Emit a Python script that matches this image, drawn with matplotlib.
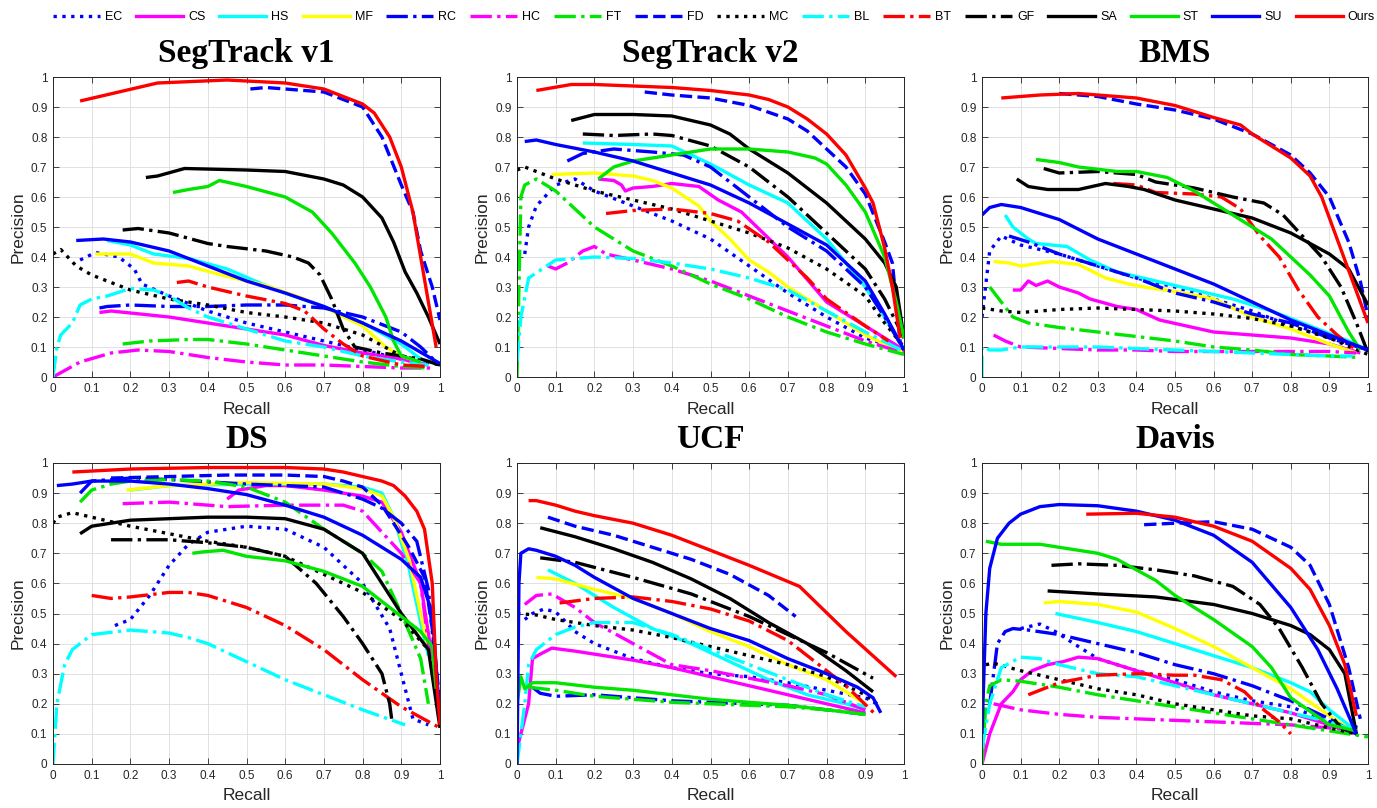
import matplotlib
matplotlib.use("Agg")
import matplotlib.pyplot as plt
from matplotlib.lines import Line2D

methods = ["EC", "CS", "HS", "MF", "RC", "HC", "FT", "FD", "MC", "BL", "BT", "GF", "SA", "ST", "SU", "Ours"]
colors = ["#0000ff", "#ff00ff", "#00ffff", "#ffff00", "#0000ff", "#ff00ff", "#00e600", "#0000ff",
          "#000000", "#00ffff", "#ff0000", "#000000", "#000000", "#00e600", "#0000ff", "#ff0000"]
styles = [":", "-", "-", "-", "-.", "-.", "-.", "--", ":", "-.", "-.", "-.", "-", "-", "-", "-"]
titles = ["SegTrack v1", "SegTrack v2", "BMS", "DS", "UCF", "Davis"]
ticks = [0, 0.1, 0.2, 0.3, 0.4, 0.5, 0.6, 0.7, 0.8, 0.9, 1]
tick_labels = ["0", "0.1", "0.2", "0.3", "0.4", "0.5", "0.6", "0.7", "0.8", "0.9", "1"]

# each entry: method -> ([recall...], [precision...])
segtrack_v1 = {
    "EC": ([0.07, 0.11, 0.17, 0.21, 0.23, 0.3, 0.4, 0.5, 0.6, 0.7, 0.8, 0.9, 0.97],
           [0.39, 0.415, 0.4, 0.36, 0.31, 0.27, 0.22, 0.18, 0.15, 0.12, 0.09, 0.06, 0.04]),
    "CS": ([0.12, 0.15, 0.3, 0.4, 0.5, 0.6, 0.7, 0.8, 0.9, 0.97],
           [0.215, 0.22, 0.2, 0.18, 0.16, 0.14, 0.105, 0.08, 0.06, 0.04]),
    "HS": ([0.14, 0.2, 0.26, 0.35, 0.45, 0.55, 0.6, 0.7, 0.8, 0.9, 0.95, 1.0],
           [0.455, 0.44, 0.41, 0.395, 0.36, 0.305, 0.28, 0.235, 0.18, 0.11, 0.06, 0.04]),
    "MF": ([0.11, 0.2, 0.26, 0.35, 0.45, 0.55, 0.65, 0.72, 0.8, 0.86, 0.9, 0.95],
           [0.41, 0.41, 0.38, 0.37, 0.335, 0.305, 0.26, 0.22, 0.17, 0.1, 0.07, 0.05]),
    "RC": ([0.12, 0.14, 0.2, 0.3, 0.4, 0.5, 0.6, 0.7, 0.8, 0.9, 0.95, 0.99],
           [0.23, 0.235, 0.24, 0.235, 0.235, 0.24, 0.24, 0.23, 0.2, 0.15, 0.1, 0.05]),
    "HC": ([0.0, 0.07, 0.15, 0.22, 0.3, 0.4, 0.5, 0.6, 0.7, 0.8, 0.9, 0.98],
           [0.0, 0.05, 0.08, 0.09, 0.085, 0.065, 0.05, 0.04, 0.04, 0.035, 0.03, 0.03]),
    "FT": ([0.18, 0.25, 0.35, 0.4, 0.5, 0.6, 0.7, 0.8, 0.9, 0.97],
           [0.11, 0.12, 0.125, 0.125, 0.11, 0.09, 0.07, 0.05, 0.035, 0.03]),
    "FD": ([0.51, 0.55, 0.7, 0.8, 0.85, 0.9, 0.93, 0.95, 0.98, 1.0],
           [0.96, 0.965, 0.95, 0.9, 0.8, 0.64, 0.55, 0.42, 0.3, 0.19]),
    "MC": ([0.0, 0.02, 0.06, 0.1, 0.2, 0.3, 0.4, 0.5, 0.6, 0.7, 0.8, 0.9, 1.0],
           [0.41, 0.425, 0.37, 0.34, 0.29, 0.26, 0.24, 0.215, 0.2, 0.18, 0.14, 0.07, 0.04]),
    "BL": ([0.0, 0.01, 0.02, 0.05, 0.07, 0.1, 0.14, 0.2, 0.26, 0.3, 0.35, 0.4, 0.5, 0.6, 0.7, 0.8, 0.9, 0.97],
           [0.0, 0.1, 0.14, 0.18, 0.24, 0.26, 0.27, 0.295, 0.29, 0.27, 0.23, 0.2, 0.16, 0.12, 0.1, 0.07, 0.05, 0.04]),
    "BT": ([0.32, 0.35, 0.4, 0.5, 0.6, 0.65, 0.7, 0.75, 0.8, 0.9, 0.97],
           [0.315, 0.32, 0.3, 0.27, 0.245, 0.22, 0.16, 0.11, 0.07, 0.04, 0.035]),
    "GF": ([0.18, 0.22, 0.3, 0.4, 0.45, 0.55, 0.62, 0.66, 0.69, 0.72, 0.75, 0.78, 0.85, 0.95, 1.0],
           [0.49, 0.495, 0.48, 0.445, 0.435, 0.42, 0.4, 0.38, 0.34, 0.26, 0.16, 0.1, 0.08, 0.06, 0.04]),
    "SA": ([0.24, 0.27, 0.34, 0.5, 0.6, 0.7, 0.75, 0.8, 0.85, 0.88, 0.91, 0.94, 0.97, 1.0],
           [0.665, 0.67, 0.695, 0.69, 0.685, 0.66, 0.64, 0.6, 0.53, 0.45, 0.35, 0.28, 0.2, 0.11]),
    "ST": ([0.31, 0.35, 0.4, 0.43, 0.5, 0.6, 0.67, 0.72, 0.78, 0.82, 0.86, 0.88, 0.9, 0.95],
           [0.615, 0.625, 0.635, 0.655, 0.635, 0.6, 0.55, 0.48, 0.38, 0.3, 0.2, 0.12, 0.07, 0.05]),
    "SU": ([0.06, 0.13, 0.2, 0.3, 0.4, 0.5, 0.6, 0.7, 0.8, 0.9, 1.0],
           [0.455, 0.46, 0.45, 0.42, 0.37, 0.32, 0.28, 0.235, 0.18, 0.12, 0.045]),
    "Ours": ([0.07, 0.27, 0.45, 0.6, 0.7, 0.8, 0.83, 0.87, 0.9, 0.93, 0.95, 0.97, 0.99],
             [0.92, 0.98, 0.99, 0.98, 0.96, 0.91, 0.88, 0.8, 0.7, 0.55, 0.4, 0.25, 0.1]),
}

segtrack_v2 = {
    "EC": ([0.02, 0.03, 0.05, 0.1, 0.15, 0.2, 0.3, 0.4, 0.5, 0.6, 0.7, 0.8, 0.9, 1.0],
           [0.41, 0.5, 0.57, 0.64, 0.66, 0.62, 0.57, 0.52, 0.46, 0.37, 0.28, 0.2, 0.13, 0.09]),
    "CS": ([0.21, 0.25, 0.27, 0.28, 0.3, 0.35, 0.4, 0.47, 0.52, 0.58, 0.62, 0.7, 0.8, 0.9, 1.0],
           [0.66, 0.655, 0.64, 0.62, 0.63, 0.635, 0.645, 0.635, 0.59, 0.55, 0.5, 0.4, 0.25, 0.17, 0.09]),
    "HS": ([0.17, 0.3, 0.4, 0.45, 0.5, 0.6, 0.7, 0.8, 0.9, 0.95, 1.0],
           [0.78, 0.775, 0.77, 0.74, 0.71, 0.64, 0.58, 0.46, 0.3, 0.2, 0.09]),
    "MF": ([0.09, 0.2, 0.3, 0.35, 0.4, 0.47, 0.5, 0.55, 0.6, 0.65, 0.7, 0.8, 0.9, 1.0],
           [0.675, 0.68, 0.67, 0.655, 0.63, 0.57, 0.52, 0.46, 0.39, 0.35, 0.3, 0.22, 0.14, 0.08]),
    "RC": ([0.13, 0.17, 0.25, 0.35, 0.43, 0.5, 0.6, 0.7, 0.8, 0.9, 0.95, 1.0],
           [0.72, 0.745, 0.76, 0.75, 0.74, 0.7, 0.6, 0.5, 0.42, 0.3, 0.2, 0.09]),
    "HC": ([0.08, 0.1, 0.13, 0.17, 0.2, 0.23, 0.3, 0.4, 0.5, 0.6, 0.7, 0.8, 0.9, 1.0],
           [0.37, 0.36, 0.38, 0.42, 0.435, 0.41, 0.39, 0.36, 0.32, 0.27, 0.22, 0.17, 0.12, 0.08]),
    "FT": ([0.0, 0.01, 0.02, 0.05, 0.1, 0.2, 0.3, 0.4, 0.5, 0.6, 0.7, 0.8, 0.9, 1.0],
           [0.0, 0.6, 0.64, 0.66, 0.62, 0.5, 0.42, 0.37, 0.31, 0.26, 0.2, 0.15, 0.11, 0.075]),
    "FD": ([0.33, 0.4, 0.5, 0.6, 0.7, 0.75, 0.8, 0.85, 0.9, 0.95, 0.97, 0.99],
           [0.95, 0.94, 0.93, 0.905, 0.86, 0.82, 0.76, 0.7, 0.61, 0.45, 0.38, 0.12]),
    "MC": ([0.0, 0.02, 0.1, 0.2, 0.3, 0.4, 0.5, 0.6, 0.7, 0.8, 0.9, 0.95, 1.0],
           [0.69, 0.7, 0.66, 0.62, 0.59, 0.56, 0.52, 0.48, 0.43, 0.36, 0.27, 0.18, 0.1]),
    "BL": ([0.0, 0.01, 0.03, 0.1, 0.2, 0.3, 0.4, 0.5, 0.6, 0.7, 0.8, 0.9, 1.0],
           [0.05, 0.2, 0.33, 0.39, 0.4, 0.395, 0.38, 0.36, 0.33, 0.29, 0.22, 0.15, 0.085]),
    "BT": ([0.23, 0.3, 0.4, 0.5, 0.57, 0.65, 0.75, 0.8, 0.9, 0.96],
           [0.545, 0.555, 0.56, 0.545, 0.52, 0.45, 0.33, 0.26, 0.17, 0.12]),
    "GF": ([0.17, 0.25, 0.35, 0.4, 0.5, 0.6, 0.7, 0.8, 0.9, 0.95, 1.0],
           [0.81, 0.805, 0.81, 0.805, 0.77, 0.7, 0.6, 0.48, 0.36, 0.26, 0.13]),
    "SA": ([0.14, 0.2, 0.3, 0.4, 0.5, 0.55, 0.6, 0.7, 0.8, 0.9, 0.95, 0.98, 1.0],
           [0.855, 0.875, 0.875, 0.87, 0.84, 0.81, 0.76, 0.68, 0.58, 0.46, 0.38, 0.3, 0.13]),
    "ST": ([0.21, 0.25, 0.3, 0.4, 0.5, 0.6, 0.7, 0.77, 0.8, 0.85, 0.9, 0.95, 0.98, 1.0],
           [0.66, 0.7, 0.72, 0.74, 0.76, 0.76, 0.75, 0.73, 0.71, 0.64, 0.55, 0.4, 0.25, 0.13]),
    "SU": ([0.02, 0.05, 0.1, 0.2, 0.3, 0.4, 0.5, 0.6, 0.7, 0.8, 0.9, 0.95, 1.0],
           [0.785, 0.79, 0.775, 0.75, 0.72, 0.68, 0.64, 0.58, 0.51, 0.44, 0.32, 0.21, 0.09]),
    "Ours": ([0.05, 0.14, 0.2, 0.3, 0.4, 0.5, 0.6, 0.65, 0.7, 0.75, 0.8, 0.85, 0.9, 0.92, 0.95, 0.97, 0.99],
             [0.955, 0.975, 0.975, 0.97, 0.965, 0.955, 0.94, 0.925, 0.9, 0.86, 0.81, 0.74, 0.63, 0.58, 0.43, 0.3, 0.13]),
}

bms = {
    "EC": ([0.0, 0.02, 0.05, 0.1, 0.2, 0.3, 0.4, 0.5, 0.6, 0.7, 0.8, 0.9, 1.0],
           [0.2, 0.42, 0.47, 0.44, 0.41, 0.37, 0.33, 0.3, 0.26, 0.22, 0.17, 0.13, 0.09]),
    "CS": ([0.08, 0.1, 0.12, 0.14, 0.17, 0.2, 0.25, 0.28, 0.35, 0.4, 0.46, 0.6, 0.8, 0.9, 0.98],
           [0.29, 0.29, 0.32, 0.305, 0.32, 0.3, 0.28, 0.26, 0.235, 0.225, 0.19, 0.15, 0.13, 0.11, 0.08]),
    "HS": ([0.06, 0.08, 0.12, 0.14, 0.18, 0.22, 0.28, 0.35, 0.45, 0.55, 0.65, 0.75, 0.85, 0.95, 1.0],
           [0.54, 0.5, 0.46, 0.445, 0.44, 0.435, 0.39, 0.35, 0.32, 0.29, 0.26, 0.22, 0.17, 0.12, 0.09]),
    "MF": ([0.03, 0.07, 0.1, 0.18, 0.25, 0.32, 0.38, 0.42, 0.5, 0.6, 0.7, 0.8, 0.9, 0.97],
           [0.385, 0.38, 0.37, 0.385, 0.375, 0.33, 0.31, 0.3, 0.285, 0.26, 0.2, 0.16, 0.11, 0.08]),
    "RC": ([0.07, 0.12, 0.2, 0.3, 0.4, 0.5, 0.6, 0.7, 0.8, 0.9, 1.0],
           [0.47, 0.45, 0.41, 0.37, 0.33, 0.28, 0.25, 0.21, 0.18, 0.13, 0.09]),
    "HC": ([0.03, 0.06, 0.1, 0.2, 0.3, 0.4, 0.5, 0.6, 0.7, 0.8, 0.9, 0.97],
           [0.14, 0.12, 0.1, 0.095, 0.09, 0.09, 0.085, 0.085, 0.085, 0.085, 0.085, 0.08]),
    "FT": ([0.02, 0.05, 0.08, 0.12, 0.2, 0.3, 0.4, 0.5, 0.6, 0.7, 0.8, 0.9, 0.98],
           [0.3, 0.25, 0.2, 0.18, 0.165, 0.15, 0.135, 0.12, 0.1, 0.09, 0.075, 0.07, 0.065]),
    "FD": ([0.2, 0.3, 0.4, 0.5, 0.6, 0.7, 0.8, 0.85, 0.9, 0.95, 0.98, 1.0],
           [0.945, 0.935, 0.91, 0.89, 0.86, 0.81, 0.74, 0.68, 0.6, 0.45, 0.32, 0.2]),
    "MC": ([0.0, 0.05, 0.1, 0.2, 0.3, 0.4, 0.5, 0.6, 0.7, 0.8, 0.9, 1.0],
           [0.23, 0.22, 0.215, 0.225, 0.23, 0.225, 0.22, 0.21, 0.195, 0.17, 0.13, 0.075]),
    "BL": ([0.0, 0.0, 0.02, 0.05, 0.1, 0.2, 0.3, 0.4, 0.5, 0.6, 0.7, 0.8, 0.9, 0.96],
           [0.0, 0.1, 0.09, 0.09, 0.1, 0.1, 0.1, 0.095, 0.09, 0.085, 0.08, 0.075, 0.07, 0.07]),
    "BT": ([0.34, 0.4, 0.45, 0.55, 0.62, 0.67, 0.72, 0.77, 0.82, 0.87, 0.92, 0.97],
           [0.645, 0.64, 0.615, 0.61, 0.6, 0.56, 0.47, 0.4, 0.29, 0.2, 0.14, 0.09]),
    "GF": ([0.16, 0.2, 0.3, 0.4, 0.45, 0.55, 0.65, 0.73, 0.78, 0.83, 0.88, 0.93, 0.97, 1.0],
           [0.695, 0.68, 0.685, 0.675, 0.65, 0.63, 0.6, 0.58, 0.54, 0.47, 0.4, 0.3, 0.18, 0.08]),
    "SA": ([0.09, 0.12, 0.17, 0.25, 0.32, 0.38, 0.42, 0.5, 0.6, 0.7, 0.8, 0.9, 0.95, 1.0],
           [0.66, 0.635, 0.625, 0.625, 0.645, 0.635, 0.625, 0.59, 0.56, 0.53, 0.48, 0.41, 0.36, 0.24]),
    "ST": ([0.14, 0.2, 0.25, 0.35, 0.4, 0.48, 0.55, 0.65, 0.75, 0.85, 0.9, 0.95, 0.98],
           [0.725, 0.715, 0.7, 0.685, 0.685, 0.665, 0.62, 0.54, 0.46, 0.34, 0.27, 0.15, 0.09]),
    "SU": ([0.0, 0.02, 0.05, 0.1, 0.2, 0.3, 0.4, 0.5, 0.6, 0.7, 0.8, 0.9, 1.0],
           [0.54, 0.565, 0.575, 0.565, 0.525, 0.46, 0.41, 0.36, 0.31, 0.25, 0.19, 0.14, 0.09]),
    "Ours": ([0.05, 0.15, 0.25, 0.4, 0.5, 0.6, 0.67, 0.7, 0.8, 0.85, 0.88, 0.92, 0.96, 1.0],
             [0.93, 0.94, 0.945, 0.93, 0.905, 0.865, 0.84, 0.81, 0.73, 0.67, 0.6, 0.46, 0.32, 0.18]),
}

ds = {
    "EC": ([0.16, 0.2, 0.25, 0.3, 0.35, 0.4, 0.5, 0.6, 0.7, 0.8, 0.87, 0.9, 0.93, 0.97],
           [0.46, 0.48, 0.56, 0.66, 0.73, 0.77, 0.79, 0.78, 0.72, 0.6, 0.45, 0.3, 0.15, 0.13]),
    "CS": ([0.45, 0.48, 0.55, 0.6, 0.7, 0.8, 0.85, 0.9, 0.95, 0.98],
           [0.88, 0.91, 0.925, 0.925, 0.91, 0.89, 0.87, 0.77, 0.6, 0.35]),
    "HS": ([0.2, 0.3, 0.5, 0.7, 0.8, 0.85, 0.88, 0.92, 0.95, 0.97],
           [0.91, 0.925, 0.93, 0.93, 0.92, 0.9, 0.82, 0.65, 0.47, 0.36]),
    "MF": ([0.19, 0.3, 0.5, 0.7, 0.8, 0.85, 0.88, 0.92, 0.95, 0.97],
           [0.91, 0.925, 0.935, 0.93, 0.915, 0.89, 0.82, 0.68, 0.5, 0.38]),
    "RC": ([0.07, 0.1, 0.2, 0.3, 0.5, 0.7, 0.8, 0.85, 0.9, 0.94, 0.97, 0.99],
           [0.9, 0.94, 0.95, 0.945, 0.93, 0.92, 0.88, 0.85, 0.8, 0.74, 0.58, 0.3]),
    "HC": ([0.18, 0.3, 0.45, 0.6, 0.75, 0.8, 0.85, 0.9, 0.95, 0.98],
           [0.865, 0.87, 0.855, 0.86, 0.86, 0.84, 0.77, 0.7, 0.6, 0.3]),
    "FT": ([0.07, 0.1, 0.15, 0.2, 0.3, 0.4, 0.5, 0.6, 0.7, 0.8, 0.85, 0.9, 0.95, 0.97],
           [0.87, 0.91, 0.93, 0.94, 0.945, 0.94, 0.92, 0.87, 0.78, 0.7, 0.64, 0.5, 0.35, 0.2]),
    "FD": ([0.15, 0.3, 0.45, 0.6, 0.7, 0.75, 0.8, 0.85, 0.88, 0.92, 0.96, 0.98, 1.0],
           [0.95, 0.955, 0.96, 0.96, 0.955, 0.94, 0.92, 0.86, 0.8, 0.72, 0.62, 0.45, 0.2]),
    "MC": ([0.0, 0.01, 0.05, 0.1, 0.2, 0.3, 0.4, 0.5, 0.6, 0.7, 0.8, 0.9, 0.97],
           [0.8, 0.82, 0.835, 0.82, 0.79, 0.765, 0.74, 0.72, 0.69, 0.63, 0.57, 0.48, 0.38]),
    "BL": ([0.0, 0.01, 0.03, 0.05, 0.1, 0.2, 0.3, 0.35, 0.4, 0.5, 0.6, 0.7, 0.8, 0.91],
           [0.0, 0.2, 0.33, 0.38, 0.43, 0.445, 0.435, 0.42, 0.4, 0.34, 0.28, 0.23, 0.18, 0.13]),
    "BT": ([0.1, 0.15, 0.2, 0.3, 0.35, 0.4, 0.5, 0.6, 0.7, 0.8, 0.9, 1.0],
           [0.56, 0.55, 0.555, 0.57, 0.57, 0.56, 0.52, 0.46, 0.38, 0.28, 0.19, 0.12]),
    "GF": ([0.15, 0.3, 0.4, 0.5, 0.6, 0.68, 0.75, 0.8, 0.85, 0.87, 0.875],
           [0.745, 0.745, 0.735, 0.72, 0.69, 0.6, 0.49, 0.4, 0.3, 0.2, 0.15]),
    "SA": ([0.07, 0.1, 0.2, 0.3, 0.4, 0.5, 0.6, 0.7, 0.8, 0.85, 0.9, 0.97, 1.0],
           [0.765, 0.79, 0.81, 0.815, 0.82, 0.82, 0.815, 0.78, 0.7, 0.6, 0.5, 0.38, 0.12]),
    "ST": ([0.36, 0.39, 0.44, 0.5, 0.6, 0.7, 0.8, 0.85, 0.9, 0.95, 0.98, 0.99],
           [0.7, 0.705, 0.71, 0.69, 0.675, 0.64, 0.59, 0.54, 0.49, 0.44, 0.39, 0.25]),
    "SU": ([0.01, 0.05, 0.1, 0.2, 0.3, 0.4, 0.5, 0.6, 0.7, 0.8, 0.85, 0.9, 0.95, 0.98, 1.0],
           [0.925, 0.93, 0.94, 0.94, 0.93, 0.915, 0.895, 0.86, 0.82, 0.76, 0.72, 0.68, 0.62, 0.5, 0.15]),
    "Ours": ([0.05, 0.2, 0.4, 0.6, 0.7, 0.75, 0.8, 0.85, 0.88, 0.91, 0.94, 0.96, 0.98, 0.99, 1.0],
             [0.97, 0.98, 0.985, 0.985, 0.98, 0.97, 0.955, 0.94, 0.925, 0.89, 0.84, 0.78, 0.6, 0.3, 0.13]),
}

ucf = {
    "EC": ([0.02, 0.04, 0.07, 0.1, 0.12, 0.15, 0.2, 0.3, 0.4, 0.5, 0.6, 0.7, 0.8, 0.9, 0.93],
           [0.48, 0.5, 0.515, 0.505, 0.48, 0.44, 0.4, 0.35, 0.32, 0.3, 0.29, 0.27, 0.245, 0.22, 0.2]),
    "CS": ([0.0, 0.02, 0.03, 0.04, 0.06, 0.09, 0.15, 0.2, 0.3, 0.4, 0.5, 0.6, 0.7, 0.8, 0.9],
           [0.05, 0.15, 0.2, 0.35, 0.365, 0.385, 0.375, 0.365, 0.345, 0.32, 0.29, 0.26, 0.23, 0.2, 0.17]),
    "HS": ([0.08, 0.15, 0.25, 0.35, 0.45, 0.55, 0.65, 0.75, 0.85, 0.9],
           [0.645, 0.6, 0.52, 0.45, 0.4, 0.34, 0.28, 0.23, 0.2, 0.18]),
    "MF": ([0.05, 0.1, 0.2, 0.3, 0.4, 0.5, 0.6, 0.7, 0.8, 0.9],
           [0.62, 0.615, 0.58, 0.55, 0.5, 0.44, 0.39, 0.33, 0.28, 0.2]),
    "RC": ([0.04, 0.06, 0.1, 0.2, 0.3, 0.4, 0.5, 0.6, 0.7, 0.8, 0.9],
           [0.255, 0.235, 0.225, 0.23, 0.22, 0.21, 0.205, 0.2, 0.195, 0.18, 0.165]),
    "HC": ([0.02, 0.05, 0.09, 0.15, 0.2, 0.3, 0.4, 0.5, 0.6, 0.7, 0.8, 0.9],
           [0.53, 0.56, 0.565, 0.52, 0.47, 0.4, 0.33, 0.31, 0.285, 0.26, 0.23, 0.18]),
    "FT": ([0.03, 0.1, 0.2, 0.3, 0.4, 0.5, 0.6, 0.7, 0.8, 0.9],
           [0.255, 0.245, 0.225, 0.215, 0.205, 0.2, 0.195, 0.19, 0.18, 0.165]),
    "FD": ([0.08, 0.15, 0.25, 0.35, 0.45, 0.55, 0.65, 0.72],
           [0.82, 0.79, 0.76, 0.72, 0.68, 0.63, 0.56, 0.49]),
    "MC": ([0.0, 0.05, 0.1, 0.2, 0.3, 0.4, 0.5, 0.6, 0.7, 0.8, 0.9, 0.93],
           [0.5, 0.495, 0.48, 0.46, 0.445, 0.42, 0.39, 0.36, 0.33, 0.29, 0.23, 0.2]),
    "BL": ([0.0, 0.02, 0.03, 0.05, 0.1, 0.15, 0.2, 0.3, 0.4, 0.5, 0.6, 0.7, 0.8, 0.9],
           [0.0, 0.2, 0.33, 0.38, 0.43, 0.455, 0.47, 0.47, 0.43, 0.38, 0.33, 0.28, 0.23, 0.19]),
    "BT": ([0.11, 0.2, 0.3, 0.4, 0.5, 0.6, 0.7, 0.75, 0.85, 0.93],
           [0.535, 0.55, 0.555, 0.54, 0.515, 0.475, 0.41, 0.36, 0.26, 0.16]),
    "GF": ([0.06, 0.15, 0.3, 0.45, 0.6, 0.7, 0.8, 0.92],
           [0.685, 0.67, 0.62, 0.565, 0.49, 0.43, 0.37, 0.285]),
    "SA": ([0.06, 0.15, 0.25, 0.35, 0.45, 0.55, 0.65, 0.75, 0.85, 0.92],
           [0.785, 0.755, 0.715, 0.67, 0.615, 0.55, 0.47, 0.4, 0.31, 0.24]),
    "ST": ([0.0, 0.01, 0.02, 0.04, 0.1, 0.2, 0.3, 0.4, 0.5, 0.6, 0.7, 0.8, 0.9],
           [0.2, 0.29, 0.25, 0.27, 0.27, 0.255, 0.245, 0.23, 0.215, 0.205, 0.195, 0.18, 0.165]),
    "SU": ([0.0, 0.005, 0.01, 0.03, 0.05, 0.1, 0.15, 0.2, 0.3, 0.4, 0.5, 0.6, 0.7, 0.8, 0.88, 0.92, 0.94],
           [0.0, 0.6, 0.7, 0.715, 0.71, 0.69, 0.66, 0.62, 0.55, 0.5, 0.45, 0.41, 0.35, 0.3, 0.255, 0.22, 0.17]),
    "Ours": ([0.03, 0.05, 0.1, 0.15, 0.2, 0.3, 0.4, 0.5, 0.6, 0.73, 0.85, 0.98],
             [0.875, 0.875, 0.86, 0.84, 0.825, 0.8, 0.76, 0.71, 0.66, 0.59, 0.44, 0.29]),
}

davis = {
    "EC": ([0.1, 0.15, 0.19, 0.25, 0.3, 0.4, 0.5, 0.6, 0.7, 0.8, 0.9, 0.98],
           [0.45, 0.465, 0.44, 0.39, 0.35, 0.31, 0.28, 0.24, 0.21, 0.19, 0.14, 0.12]),
    "CS": ([0.0, 0.02, 0.05, 0.08, 0.1, 0.13, 0.17, 0.21, 0.25, 0.3, 0.4, 0.5, 0.6, 0.7, 0.8, 0.9, 0.97],
           [0.0, 0.1, 0.2, 0.24, 0.28, 0.31, 0.33, 0.34, 0.355, 0.35, 0.31, 0.27, 0.23, 0.2, 0.17, 0.13, 0.1]),
    "HS": ([0.19, 0.3, 0.4, 0.5, 0.6, 0.7, 0.8, 0.85, 0.9, 0.97],
           [0.5, 0.47, 0.44, 0.4, 0.36, 0.32, 0.27, 0.24, 0.18, 0.11]),
    "MF": ([0.16, 0.2, 0.3, 0.4, 0.5, 0.6, 0.7, 0.8, 0.9, 0.97],
           [0.535, 0.54, 0.53, 0.505, 0.45, 0.39, 0.32, 0.25, 0.16, 0.1]),
    "RC": ([0.02, 0.04, 0.06, 0.08, 0.12, 0.2, 0.3, 0.4, 0.5, 0.6, 0.7, 0.8, 0.9, 0.97],
           [0.2, 0.4, 0.44, 0.45, 0.445, 0.43, 0.4, 0.37, 0.33, 0.3, 0.26, 0.21, 0.15, 0.1]),
    "HC": ([0.03, 0.1, 0.2, 0.3, 0.4, 0.5, 0.6, 0.7, 0.8, 0.9, 0.97],
           [0.2, 0.18, 0.165, 0.155, 0.15, 0.145, 0.14, 0.135, 0.13, 0.12, 0.11]),
    "FT": ([0.0, 0.01, 0.02, 0.05, 0.1, 0.2, 0.3, 0.4, 0.5, 0.6, 0.7, 0.8, 0.9, 1.0],
           [0.0, 0.2, 0.26, 0.28, 0.275, 0.255, 0.23, 0.21, 0.19, 0.17, 0.15, 0.13, 0.11, 0.09]),
    "FD": ([0.42, 0.5, 0.6, 0.7, 0.8, 0.85, 0.9, 0.95, 0.98],
           [0.795, 0.8, 0.805, 0.78, 0.72, 0.66, 0.53, 0.32, 0.15]),
    "MC": ([0.01, 0.03, 0.1, 0.2, 0.3, 0.4, 0.5, 0.6, 0.7, 0.8, 0.9, 0.97],
           [0.33, 0.335, 0.31, 0.28, 0.25, 0.23, 0.2, 0.18, 0.16, 0.15, 0.12, 0.1]),
    "BL": ([0.0, 0.02, 0.05, 0.1, 0.15, 0.2, 0.3, 0.4, 0.5, 0.6, 0.7, 0.8, 0.9, 0.97],
           [0.05, 0.2, 0.32, 0.355, 0.35, 0.33, 0.3, 0.29, 0.26, 0.23, 0.2, 0.17, 0.14, 0.11]),
    "BT": ([0.12, 0.2, 0.3, 0.4, 0.5, 0.55, 0.62, 0.68, 0.72, 0.77, 0.8],
           [0.23, 0.27, 0.295, 0.3, 0.295, 0.295, 0.28, 0.24, 0.19, 0.14, 0.1]),
    "GF": ([0.18, 0.25, 0.35, 0.45, 0.55, 0.65, 0.72, 0.77, 0.83, 0.88, 0.93, 0.97],
           [0.66, 0.665, 0.66, 0.645, 0.625, 0.59, 0.53, 0.45, 0.32, 0.2, 0.12, 0.1]),
    "SA": ([0.17, 0.3, 0.45, 0.6, 0.7, 0.8, 0.85, 0.9, 0.94, 0.97],
           [0.575, 0.565, 0.555, 0.53, 0.5, 0.46, 0.43, 0.38, 0.3, 0.1]),
    "ST": ([0.01, 0.05, 0.15, 0.3, 0.35, 0.45, 0.5, 0.6, 0.7, 0.75, 0.8, 0.9, 0.97],
           [0.74, 0.73, 0.73, 0.7, 0.68, 0.61, 0.56, 0.48, 0.39, 0.32, 0.22, 0.13, 0.11]),
    "SU": ([0.0, 0.01, 0.02, 0.04, 0.07, 0.1, 0.15, 0.2, 0.3, 0.4, 0.5, 0.6, 0.7, 0.8, 0.87, 0.92, 0.97],
           [0.1, 0.5, 0.65, 0.75, 0.8, 0.83, 0.855, 0.862, 0.858, 0.84, 0.81, 0.76, 0.67, 0.52, 0.38, 0.25, 0.1]),
    "Ours": ([0.27, 0.4, 0.5, 0.6, 0.7, 0.8, 0.85, 0.9, 0.94, 0.97],
             [0.83, 0.833, 0.82, 0.79, 0.74, 0.65, 0.58, 0.46, 0.33, 0.16]),
}

panels = [segtrack_v1, segtrack_v2, bms, ds, ucf, davis]

W, H = 1377, 808
fig = plt.figure(figsize=(W / 100, H / 100), dpi=100)
plt.rcParams["font.family"] = ["Liberation Sans", "DejaVu Sans"]

# pixel boxes (x0, x1, y_top, y_bottom)
col_x = [(53, 440), (517, 904), (982, 1368)]
row_y = [(77, 377), (463, 764)]
tick_col = "#262626"

for i, data in enumerate(panels):
    r, c = divmod(i, 3)
    x0, x1 = col_x[c]
    yt, yb = row_y[r]
    ax = fig.add_axes([x0 / W, 1 - yb / H, (x1 - x0) / W, (yb - yt) / H])
    for m, col, ls in zip(methods, colors, styles):
        rec, prec = data[m]
        ax.plot(rec, prec, color=col, linestyle=ls, linewidth=2.4,
                solid_capstyle="butt", dash_capstyle="butt")
    ax.set_xlim(0, 1)
    ax.set_ylim(0, 1)
    ax.set_xticks(ticks)
    ax.set_yticks(ticks)
    ax.set_xticklabels(tick_labels)
    ax.set_yticklabels(tick_labels)
    ax.tick_params(direction="in", top=True, right=True, length=4, width=0.6,
                   labelsize=8.5, colors=tick_col, pad=4)
    ax.grid(True, color="#dcdcdc", linewidth=0.6)
    ax.set_axisbelow(True)
    for sp in ax.spines.values():
        sp.set_color(tick_col)
        sp.set_linewidth(0.7)
    ax.set_xlabel("Recall", fontsize=12.5, color=tick_col, labelpad=5)
    ax.set_ylabel("Precision", fontsize=12.5, color=tick_col, labelpad=4)
    ax.set_title(titles[i], fontsize=24, fontweight="bold",
                 family=["Liberation Serif", "DejaVu Serif"], pad=11)

handles = [Line2D([0], [0], color=col, linestyle=ls, linewidth=2.4)
           for col, ls in zip(colors, styles)]
fig.legend(handles, methods, loc="center", bbox_to_anchor=(714 / W, 1 - 17 / H), ncol=16,
           frameon=False, fontsize=9, handlelength=3.76, handletextpad=0.4,
           columnspacing=1.1, borderpad=0.2)

fig.savefig("out.png", dpi=100)
